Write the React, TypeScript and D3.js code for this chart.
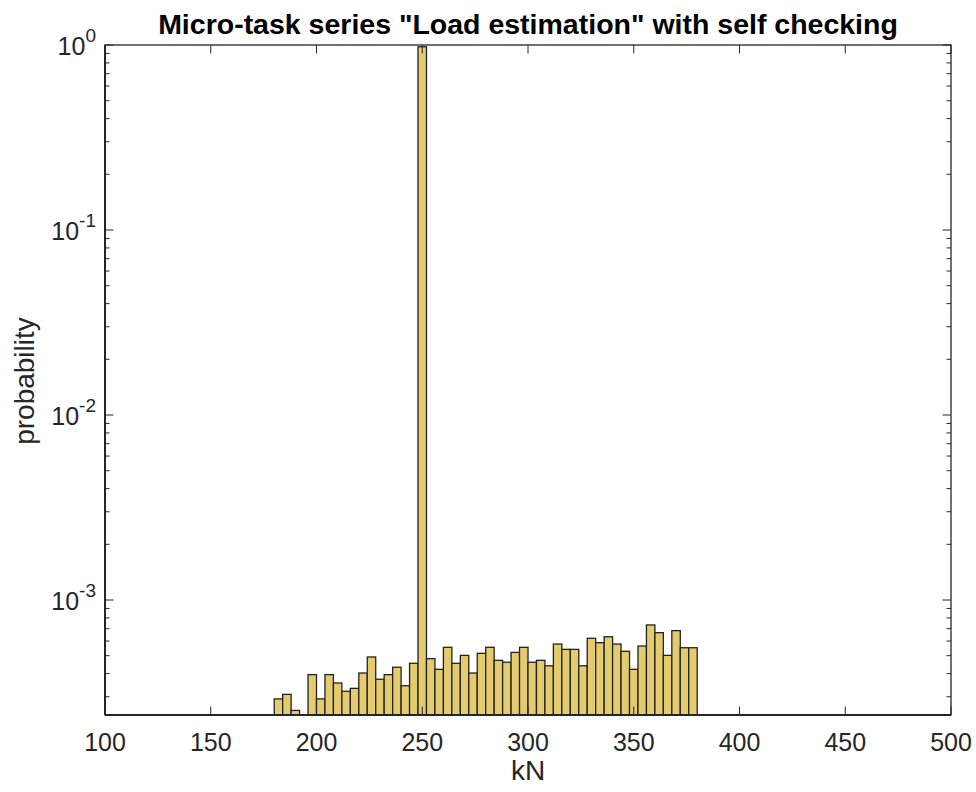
import React from "react";
import * as d3 from "d3";

const binStarts = [180,184,188,192,196,200,204,208,212,216,220,224,228,232,236,240,244,248,252,256,260,264,268,272,276,280,284,288,292,296,300,304,308,312,316,320,324,328,332,336,340,344,348,352,356,360,364,368,372,376];
const probabilities = [2.92e-4,3.09e-4,2.53e-4,0,3.95e-4,2.92e-4,3.95e-4,3.56e-4,3.21e-4,3.33e-4,4.03e-4,4.92e-4,3.73e-4,3.95e-4,4.33e-4,3.44e-4,4.55e-4,0.978,4.82e-4,4.22e-4,5.55e-4,4.55e-4,5.02e-4,4.03e-4,5.15e-4,5.55e-4,4.72e-4,4.61e-4,5.21e-4,5.55e-4,4.61e-4,4.72e-4,4.41e-4,5.78e-4,5.41e-4,5.41e-4,4.41e-4,6.21e-4,5.88e-4,6.33e-4,5.78e-4,5.28e-4,4.22e-4,5.64e-4,7.33e-4,6.66e-4,5.02e-4,6.83e-4,5.52e-4,5.52e-4];
const binWidth = 4;
const xTicks = [100,150,200,250,300,350,400,450,500];
const yDecades = [0,-1,-2,-3];
const titleText = 'Micro-task series "Load estimation" with self checking';
const xLabel = "kN";
const yLabel = "probability";

export default function App() {
  const W = 976, H = 792;
  const L = 105, R = 951, T = 45, B = 715;
  const x = d3.scaleLinear().domain([100, 500]).range([L, R]);
  const y = d3.scaleLog().domain([2.39e-4, 1]).range([B, T]);
  const axisColor = "#262626";
  const font = "'Liberation Sans', Arial, Helvetica, sans-serif";
  const majorLen = 8.5, minorLen = 4.5;

  const minorTicks: number[] = [];
  for (let d = -4; d < 0; d++) {
    for (let m = 2; m <= 9; m++) {
      const v = m * Math.pow(10, d);
      if (v >= 2.39e-4 && v <= 1) minorTicks.push(v);
    }
  }

  return (
    <svg width={W} height={H} style={{ position: "absolute", left: 0, top: 0, background: "#fff" }} fontFamily={font}>
      <defs>
        <clipPath id="plotClip">
          <rect x={L} y={T} width={R - L} height={B - T} />
        </clipPath>
      </defs>
      <rect x={0} y={0} width={W} height={H} fill="#fff" />
      <g clipPath="url(#plotClip)">
        {binStarts.map((b, i) => {
          const v = probabilities[i];
          if (!(v > 0)) return null;
          const x0 = x(b), x1 = x(b + binWidth);
          const yt = y(v);
          return (
            <rect key={b} x={x0} y={yt} width={x1 - x0} height={B + 5 - yt}
              fill="#E4CB6E" stroke="#222" strokeWidth={1.3} />
          );
        })}
      </g>
      {xTicks.map((t) => (
        <g key={"xt" + t}>
          <line x1={x(t)} x2={x(t)} y1={B} y2={B - majorLen} stroke={axisColor} strokeWidth={1} />
          <line x1={x(t)} x2={x(t)} y1={T} y2={T + majorLen} stroke={axisColor} strokeWidth={1} />
          <text x={x(t)} y={751} textAnchor="middle" fontSize={25} fill={axisColor}>{t}</text>
        </g>
      ))}
      {yDecades.map((d) => {
        const yy = y(Math.pow(10, d));
        return (
          <g key={"yd" + d}>
            <line x1={L} x2={L + majorLen} y1={yy} y2={yy} stroke={axisColor} strokeWidth={1} />
            <line x1={R} x2={R - majorLen} y1={yy} y2={yy} stroke={axisColor} strokeWidth={1} />
            <text x={96} y={yy + 10} textAnchor="end" fontSize={25} fill={axisColor}>
              10<tspan dy={-13} fontSize={19}>{d}</tspan>
            </text>
          </g>
        );
      })}
      {minorTicks.map((v) => {
        const yy = y(v);
        return (
          <g key={"ym" + v}>
            <line x1={L} x2={L + minorLen} y1={yy} y2={yy} stroke={axisColor} strokeWidth={1} />
            <line x1={R} x2={R - minorLen} y1={yy} y2={yy} stroke={axisColor} strokeWidth={1} />
          </g>
        );
      })}
      <rect x={L} y={T} width={R - L} height={B - T} fill="none" stroke={axisColor} strokeWidth={1.3} />
      <line x1={L} x2={R} y1={B} y2={B} stroke={axisColor} strokeWidth={2} />
      <line x1={L} x2={L} y1={T} y2={B} stroke={axisColor} strokeWidth={2} />
      <text x={(L + R) / 2} y={34} textAnchor="middle" fontSize={28.5} fontWeight="bold" fill="#000">{titleText}</text>
      <text x={(L + R) / 2} y={780} textAnchor="middle" fontSize={28} fill={axisColor}>{xLabel}</text>
      <text transform={`translate(34, ${(T + B) / 2 + 1}) rotate(-90)`} textAnchor="middle" fontSize={28} fill={axisColor}>{yLabel}</text>
    </svg>
  );
}
